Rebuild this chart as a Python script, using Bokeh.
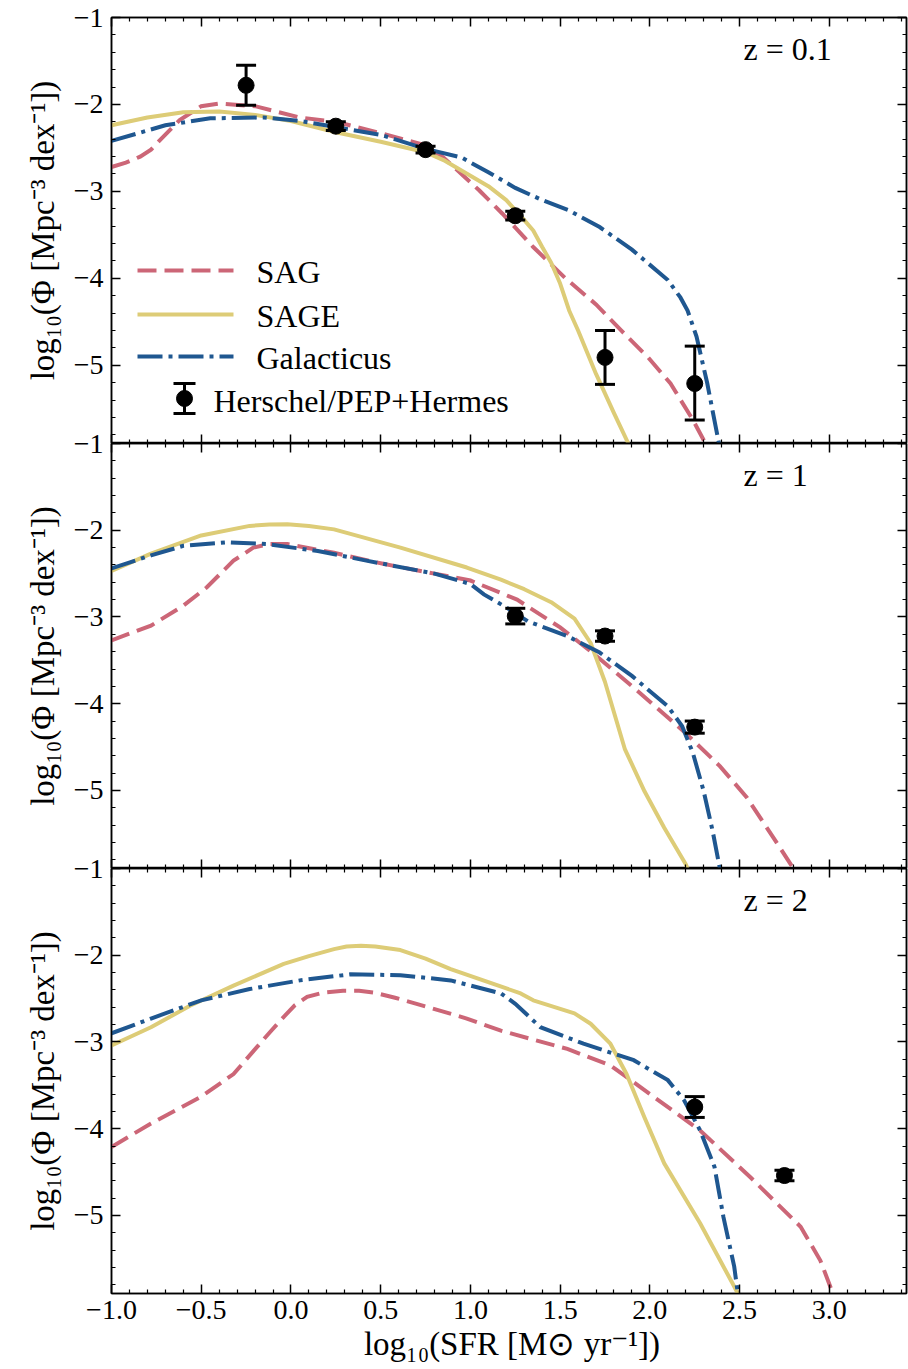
import numpy as np
from bokeh.plotting import figure
from bokeh.models import (Range1d, LinearAxis, FixedTicker, CustomJSTickFormatter,
                          Whisker, TeeHead, ColumnDataSource, Label, CustomLabelingPolicy)
from bokeh.layouts import column
from bokeh.embed import file_html
from bokeh.resources import INLINE

# ---------------- data ----------------
x_major = [-1.0, -0.5, 0.0, 0.5, 1.0, 1.5, 2.0, 2.5, 3.0]
y_major = [-5, -4, -3, -2, -1]
redshift_labels = ["z = 0.1", "z = 1", "z = 2"]
model_names = ["SAG", "SAGE", "Galacticus"]
obs_name = "Herschel/PEP+Hermes"

# z = 0.1
sag_z01_x = [-1.0, -0.92, -0.84, -0.78, -0.73, -0.62, -0.5, -0.4, -0.2, 0.05, 0.25, 0.5, 0.75, 0.85,
             0.95, 1.05, 1.18, 1.35, 1.53, 1.7, 1.84, 1.99, 2.115, 2.24, 2.31]
sag_z01_y = [-2.72, -2.67, -2.6, -2.52, -2.41, -2.18, -2.02, -1.99, -2.02, -2.15, -2.2, -2.33, -2.47,
             -2.61, -2.8, -2.99, -3.26, -3.64, -4.0, -4.3, -4.6, -4.91, -5.21, -5.63, -5.9]
sage_z01_x = [-1.0, -0.8, -0.6, -0.4, -0.2, 0.0, 0.25, 0.5, 0.75, 0.85, 1.0, 1.1, 1.2, 1.3, 1.35, 1.4,
              1.45, 1.5, 1.55, 1.6, 1.7, 1.8, 1.88]
sage_z01_y = [-2.24, -2.15, -2.09, -2.08, -2.12, -2.19, -2.32, -2.43, -2.55, -2.64, -2.82, -2.94, -3.10,
              -3.33, -3.45, -3.64, -3.82, -4.06, -4.37, -4.6, -5.1, -5.55, -5.9]
gal_z01_x = [-1.0, -0.7, -0.45, -0.15, 0.05, 0.25, 0.5, 0.75, 0.95, 1.1, 1.25, 1.4, 1.55, 1.72, 1.9,
             2.1, 2.17, 2.21, 2.26, 2.32, 2.385]
gal_z01_y = [-2.42, -2.24, -2.16, -2.15, -2.19, -2.26, -2.35, -2.51, -2.61, -2.78, -2.96, -3.10, -3.22,
             -3.41, -3.67, -4.02, -4.22, -4.37, -4.67, -5.21, -5.9]
obs_z01_x = [-0.25, 0.25, 0.75, 1.25, 1.75, 2.25]
obs_z01_y = [-1.78, -2.25, -2.52, -3.28, -4.91, -5.21]
obs_z01_lo = [-2.01, -2.30, -2.56, -3.33, -5.22, -5.63]
obs_z01_hi = [-1.55, -2.20, -2.48, -3.23, -4.60, -4.78]

# z = 1
sag_z1_x = [-1.0, -0.78, -0.6, -0.47, -0.32, -0.26, -0.21, -0.12, -0.02, 0.24, 0.52, 0.8, 1.0, 1.26,
            1.5, 1.69, 1.93, 2.2, 2.39, 2.54, 2.69, 2.8]
sag_z1_y = [-3.27, -3.10, -2.87, -2.66, -2.35, -2.27, -2.2, -2.16, -2.16, -2.26, -2.39, -2.5, -2.58,
            -2.8, -3.12, -3.43, -3.85, -4.34, -4.72, -5.08, -5.55, -5.9]
sage_z1_x = [-1.0, -0.78, -0.5, -0.23, -0.12, -0.02, 0.1, 0.24, 0.61, 0.98, 1.17, 1.3, 1.45, 1.58,
             1.67, 1.75, 1.86, 1.97, 2.08, 2.2, 2.21]
sage_z1_y = [-2.47, -2.27, -2.06, -1.95, -1.935, -1.93, -1.95, -1.99, -2.2, -2.43, -2.57, -2.68, -2.83,
             -3.02, -3.3, -3.75, -4.52, -5.01, -5.43, -5.85, -5.9]
gal_z1_x = [-1.0, -0.78, -0.6, -0.36, -0.13, 0.15, 0.42, 0.8, 1.0, 1.075, 1.2, 1.32, 1.54, 1.72, 1.9,
            2.1, 2.18, 2.24, 2.3, 2.35, 2.39]
gal_z1_y = [-2.44, -2.29, -2.18, -2.14, -2.16, -2.24, -2.35, -2.5, -2.62, -2.74, -2.89, -3.05, -3.22,
            -3.41, -3.68, -4.03, -4.26, -4.57, -5.01, -5.47, -5.9]
obs_z1_x = [1.25, 1.75, 2.25]
obs_z1_y = [-2.99, -3.22, -4.27]
obs_z1_lo = [-3.08, -3.28, -4.34]
obs_z1_hi = [-2.90, -3.16, -4.20]

# z = 2
sag_z2_x = [-1.0, -0.78, -0.5, -0.32, -0.19, -0.11, -0.04, 0.02, 0.09, 0.18, 0.29, 0.38, 0.46, 0.58,
            0.7, 0.98, 1.17, 1.54, 1.78, 2.0, 2.28, 2.56, 2.84, 2.95, 3.02]
sag_z2_y = [-4.21, -3.94, -3.63, -3.37, -3.06, -2.87, -2.71, -2.58, -2.48, -2.43, -2.41, -2.41, -2.43,
            -2.49, -2.56, -2.73, -2.87, -3.08, -3.27, -3.6, -4.02, -4.56, -5.13, -5.52, -5.9]
sage_z2_x = [-1.0, -0.78, -0.56, -0.32, -0.04, 0.1, 0.24, 0.31, 0.39, 0.47, 0.61, 0.75, 0.89, 1.28,
             1.35, 1.58, 1.67, 1.78, 1.87, 1.97, 2.08, 2.28, 2.47, 2.49]
sage_z2_y = [-3.04, -2.83, -2.58, -2.35, -2.10, -2.01, -1.93, -1.9, -1.89, -1.9, -1.94, -2.04, -2.16,
             -2.44, -2.52, -2.67, -2.79, -3.02, -3.37, -3.87, -4.4, -5.09, -5.82, -5.9]
gal_z2_x = [-1.0, -0.78, -0.5, -0.23, 0.05, 0.33, 0.61, 0.89, 1.17, 1.25, 1.39, 1.63, 1.91, 2.1, 2.19,
            2.28, 2.36, 2.41, 2.47, 2.49]
gal_z2_y = [-2.9, -2.73, -2.52, -2.39, -2.29, -2.22, -2.23, -2.29, -2.44, -2.56, -2.83, -3.02, -3.21,
            -3.44, -3.67, -4.02, -4.44, -5.02, -5.59, -5.9]
obs_z2_x = [2.25, 2.75]
obs_z2_y = [-3.75, -4.54]
obs_z2_lo = [-3.87, -4.60]
obs_z2_hi = [-3.63, -4.48]

# ---------------- style / layout ----------------
FONT = "Liberation Serif"
COLORS = {"SAG": "#CC6677", "SAGE": "#DDCC77", "Galacticus": "#1F5790"}
DASHES = {"SAG": "19 8", "SAGE": "solid", "Galacticus": "25 6 4 6"}
LW = 4
X_RANGE = (-1.0, 3.43)
Y_RANGE = (-5.9, -1.0)
W = 908
LEFT, RIGHT, TOP = 111, 2, 17
FRAME_H = [426, 425, 425]
BOTTOM = [0, 0, 76]

x_minor = [round(v, 1) for v in np.arange(-1.0, 3.45, 0.1) if round(v, 1) not in x_major]
y_minor = [round(v, 1) for v in np.arange(-5.8, -0.95, 0.2) if round(v, 1) not in y_major]

fmt_x = CustomJSTickFormatter(code="return tick.toFixed(1).replace('-', '\u2212');")
fmt_y = CustomJSTickFormatter(code="return tick.toFixed(0).replace('-', '\u2212');")


def style_axis(ax, show_labels):
    ax.major_tick_in = 9
    ax.major_tick_out = 0
    ax.minor_tick_in = 4
    ax.minor_tick_out = 0
    ax.major_tick_line_color = "black"
    ax.minor_tick_line_color = "black"
    ax.major_tick_line_width = 1.5
    ax.minor_tick_line_width = 1.2
    ax.axis_line_color = "black"
    ax.axis_line_width = 1.5
    if show_labels:
        ax.major_label_text_font = FONT
        ax.major_label_text_font_size = "28px"
        ax.major_label_text_color = "black"
    else:
        # tick marks only: no labels are kept for these mirror axes
        ax.major_label_policy = CustomLabelingPolicy(code="return [];")
        ax.major_label_text_font_size = "0px"
        ax.major_label_standoff = 0


def build_panel(i, curves, obs, zlabel):
    p = figure(width=W, height=TOP + FRAME_H[i] + BOTTOM[i],
               x_range=Range1d(*X_RANGE), y_range=Range1d(*Y_RANGE),
               output_backend="svg", toolbar_location=None,
               x_axis_location=None, y_axis_location=None,
               min_border_left=LEFT, min_border_right=RIGHT,
               min_border_top=TOP, min_border_bottom=BOTTOM[i])
    p.extra_x_ranges = {"ax": Range1d(0, 1)}
    p.extra_y_ranges = {"ay": Range1d(0, 1)}
    p.grid.visible = False
    p.outline_line_color = "black"
    p.outline_line_width = 1.5
    if i > 0:
        p.border_fill_color = None
        p.margin = (-TOP, 0, 0, 0)

    # axes
    left = LinearAxis(ticker=FixedTicker(ticks=y_major, minor_ticks=y_minor), formatter=fmt_y,
                      axis_label="log₁₀(Φ [Mpc⁻³ dex⁻¹])")
    style_axis(left, True)
    left.major_label_standoff = 8
    left.axis_label_text_font = FONT
    left.axis_label_text_font_size = "33px"
    left.axis_label_text_font_style = "normal"
    left.axis_label_text_color = "black"
    left.axis_label_standoff = 10
    p.add_layout(left, "left")

    right = LinearAxis(ticker=FixedTicker(ticks=y_major, minor_ticks=y_minor))
    style_axis(right, False)
    p.add_layout(right, "right")

    top = LinearAxis(ticker=FixedTicker(ticks=x_major, minor_ticks=x_minor))
    style_axis(top, False)
    p.add_layout(top, "above")

    bottom = LinearAxis(ticker=FixedTicker(ticks=x_major, minor_ticks=x_minor), formatter=fmt_x)
    if i == 2:
        style_axis(bottom, True)
        bottom.major_label_standoff = 7
        bottom.axis_label = "log₁₀(SFR [M⊙ yr⁻¹])"
        bottom.axis_label_text_font = FONT
        bottom.axis_label_text_font_size = "33px"
        bottom.axis_label_text_font_style = "normal"
        bottom.axis_label_text_color = "black"
        bottom.axis_label_standoff = 4
    else:
        style_axis(bottom, False)
    p.add_layout(bottom, "below")

    # model curves
    for name, (xs, ys) in zip(model_names, curves):
        p.line(xs, ys, line_color=COLORS[name], line_width=LW, line_dash=DASHES[name],
               line_join="round" if name == "SAGE" else "miter")

    # observations
    ox, oy, lo, hi = obs
    src = ColumnDataSource(dict(x=ox, y=oy, lo=lo, hi=hi))
    p.add_layout(Whisker(source=src, base="x", lower="lo", upper="hi", dimension="height",
                         line_color="black", line_width=3, level="annotation",
                         upper_head=TeeHead(size=20, line_color="black", line_width=3),
                         lower_head=TeeHead(size=20, line_color="black", line_width=3)))
    p.scatter("x", "y", source=src, size=16, color="black", level="annotation")

    # redshift label (axes-fraction placement)
    p.add_layout(Label(x=(743 - LEFT) / (W - LEFT - RIGHT), y=1 - 31 / FRAME_H[i],
                       x_range_name="ax", y_range_name="ay", text=zlabel,
                       text_font=FONT, text_font_size="32px", text_color="black",
                       text_baseline="middle", text_align="left"))
    return p


def add_legend(p):
    fw = W - LEFT - RIGHT
    fh = FRAME_H[0]

    def fx(px):
        return (px - LEFT) / fw

    def fy(py):
        return (TOP + fh - py) / fh

    rows_y = [270, 314, 356]
    for name, ry in zip(model_names, rows_y):
        p.line([fx(137), fx(233)], [fy(ry), fy(ry)], x_range_name="ax", y_range_name="ay",
               line_color=COLORS[name], line_width=LW, line_dash=DASHES[name])
        p.add_layout(Label(x=fx(256), y=fy(ry + 1), x_range_name="ax", y_range_name="ay",
                           text=name, text_font=FONT, text_font_size="32px", text_color="black",
                           text_baseline="middle", text_align="left"))
    # errorbar symbol
    p.segment([fx(184)], [fy(383)], [fx(184)], [fy(413)], x_range_name="ax", y_range_name="ay",
              line_color="black", line_width=3)
    p.segment([fx(173), fx(173)], [fy(383), fy(413)], [fx(195), fx(195)], [fy(383), fy(413)],
              x_range_name="ax", y_range_name="ay", line_color="black", line_width=3)
    p.scatter([fx(184)], [fy(398)], x_range_name="ax", y_range_name="ay", size=16, color="black")
    p.add_layout(Label(x=fx(213), y=fy(400), x_range_name="ax", y_range_name="ay",
                       text=obs_name, text_font=FONT, text_font_size="32px", text_color="black",
                       text_baseline="middle", text_align="left"))


p1 = build_panel(0, [(sag_z01_x, sag_z01_y), (sage_z01_x, sage_z01_y), (gal_z01_x, gal_z01_y)],
                 (obs_z01_x, obs_z01_y, obs_z01_lo, obs_z01_hi), redshift_labels[0])
add_legend(p1)
p2 = build_panel(1, [(sag_z1_x, sag_z1_y), (sage_z1_x, sage_z1_y), (gal_z1_x, gal_z1_y)],
                 (obs_z1_x, obs_z1_y, obs_z1_lo, obs_z1_hi), redshift_labels[1])
p3 = build_panel(2, [(sag_z2_x, sag_z2_y), (sage_z2_x, sage_z2_y), (gal_z2_x, gal_z2_y)],
                 (obs_z2_x, obs_z2_y, obs_z2_lo, obs_z2_hi), redshift_labels[2])

layout = column(p1, p2, p3, spacing=0)
open("out.html", "w").write(file_html(layout, INLINE))
